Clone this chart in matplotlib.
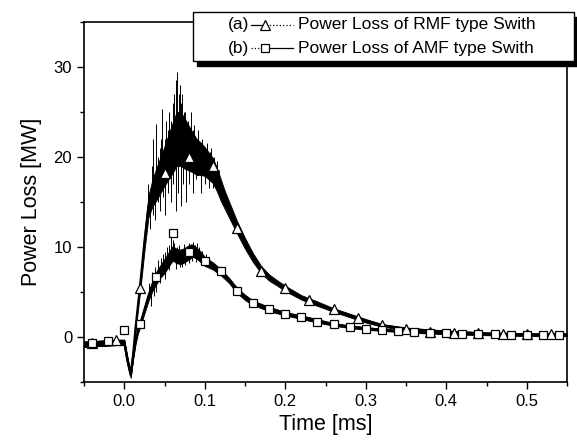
import numpy as np
import matplotlib.pyplot as plt
from matplotlib.lines import Line2D
from matplotlib.patches import Rectangle

plt.rcParams['font.family'] = ['Liberation Sans', 'DejaVu Sans']

# (a) RMF switch: centre line and half width of the noise band
t_a = [-0.05, -0.03, -0.01, 0.0, 0.004, 0.008, 0.011, 0.014, 0.017, 0.02,
       0.025, 0.03, 0.035, 0.04, 0.045, 0.05, 0.055, 0.06, 0.065, 0.07,
       0.075, 0.08, 0.085, 0.09, 0.095, 0.10, 0.105, 0.11, 0.115, 0.12,
       0.125, 0.13, 0.14, 0.15, 0.16, 0.17, 0.18, 0.19, 0.20, 0.22,
       0.24, 0.26, 0.28, 0.30, 0.32, 0.35, 0.40, 0.45, 0.50, 0.55]
a_mid = [-0.8, -0.7, -0.6, -0.6, -2.6, -4.2, -2.0, 1.0, 3.5, 6.0,
         10.5, 14.5, 16.0, 17.0, 18.0, 19.0, 20.0, 21.0, 22.0, 22.0,
         21.5, 21.0, 20.5, 20.0, 19.8, 19.5, 19.0, 18.5, 17.5, 16.3,
         15.2, 14.2, 12.2, 10.4, 8.8, 7.5, 6.6, 6.0, 5.4, 4.4,
         3.7, 3.0, 2.4, 1.8, 1.3, 0.9, 0.6, 0.4, 0.3, 0.3]
a_amp = [0.3, 0.3, 0.3, 0.3, 0.3, 0.3, 0.3, 0.4, 0.5, 0.7,
         1.0, 1.2, 1.5, 1.8, 2.0, 2.2, 2.5, 2.8, 3.0, 3.0,
         2.8, 2.5, 2.2, 2.0, 1.8, 1.6, 1.5, 1.4, 1.3, 1.2,
         1.0, 0.9, 0.7, 0.6, 0.5, 0.4, 0.35, 0.3, 0.3, 0.25,
         0.25, 0.2, 0.2, 0.2, 0.15, 0.15, 0.1, 0.1, 0.1, 0.1]
# spikes of the RMF trace (time, tip value)
a_spk_t = [0.030, 0.034, 0.036, 0.038, 0.040, 0.042, 0.044, 0.046, 0.047, 0.050,
           0.052, 0.054, 0.056, 0.058, 0.060, 0.062, 0.064, 0.066, 0.068, 0.069,
           0.071, 0.072, 0.074, 0.075, 0.077, 0.079, 0.081, 0.083, 0.085, 0.087,
           0.089, 0.092, 0.094, 0.097, 0.100, 0.103, 0.106, 0.108, 0.111, 0.115,
           0.118,
           0.032, 0.036, 0.038, 0.042, 0.045, 0.048, 0.050, 0.054, 0.058, 0.061,
           0.064, 0.067, 0.070, 0.073, 0.077, 0.081, 0.085, 0.089, 0.095, 0.100,
           0.105, 0.110]
a_spk_v = [17.0, 19.0, 22.0, 18.0, 23.7, 20.0, 21.0, 22.0, 25.3, 22.0,
           24.0, 23.0, 25.0, 24.0, 26.0, 27.0, 28.5, 29.4, 27.0, 28.0,
           26.0, 27.0, 25.0, 25.0, 24.0, 24.0, 23.0, 25.0, 23.0, 23.5,
           22.0, 23.0, 21.5, 22.0, 21.0, 21.5, 20.5, 21.0, 20.0, 19.5,
           18.5,
           12.0, 13.5, 13.0, 15.0, 14.0, 15.5, 13.5, 16.0, 15.0, 17.0,
           14.0, 16.0, 14.5, 17.0, 15.0, 17.0, 16.0, 17.5, 16.0, 17.0,
           16.5, 16.5]
a_mk_t = [-0.04, -0.01, 0.02, 0.05, 0.08, 0.11, 0.14, 0.17, 0.20, 0.23,
          0.26, 0.29, 0.32, 0.35, 0.38, 0.41, 0.44, 0.47, 0.50, 0.53]
a_mk_v = [-0.7, -0.3, 5.5, 18.2, 20.0, 19.0, 12.1, 7.3, 5.4, 4.1,
          3.1, 2.1, 1.3, 0.9, 0.6, 0.5, 0.4, 0.3, 0.3, 0.3]

# (b) AMF switch
t_b = [-0.05, -0.03, -0.01, 0.0, 0.004, 0.008, 0.011, 0.014, 0.017, 0.02,
       0.025, 0.03, 0.035, 0.04, 0.045, 0.05, 0.055, 0.06, 0.065, 0.07,
       0.075, 0.08, 0.085, 0.09, 0.095, 0.10, 0.11, 0.12, 0.13, 0.14,
       0.15, 0.16, 0.18, 0.20, 0.22, 0.24, 0.26, 0.28, 0.30, 0.35,
       0.40, 0.45, 0.50, 0.55]
b_mid = [-0.8, -0.7, -0.6, -0.6, -2.6, -4.2, -2.2, -0.5, 0.7, 1.5,
         3.0, 4.5, 5.7, 6.6, 7.3, 7.9, 8.6, 9.3, 9.0, 8.9,
         9.1, 9.4, 9.6, 9.3, 8.9, 8.4, 7.9, 7.2, 6.3, 5.2,
         4.4, 3.8, 3.1, 2.6, 2.2, 1.8, 1.4, 1.15, 0.95, 0.6,
         0.4, 0.3, 0.2, 0.2]
b_amp = [0.3, 0.3, 0.3, 0.3, 0.3, 0.3, 0.3, 0.3, 0.3, 0.35,
         0.4, 0.5, 0.6, 0.7, 0.7, 0.8, 0.8, 0.8, 0.8, 0.8,
         0.8, 0.8, 0.7, 0.6, 0.6, 0.5, 0.4, 0.35, 0.3, 0.3,
         0.3, 0.25, 0.25, 0.2, 0.2, 0.2, 0.15, 0.15, 0.15, 0.1,
         0.1, 0.1, 0.1, 0.1]
b_spk_t = [0.031, 0.035, 0.038, 0.042, 0.046, 0.048, 0.051, 0.053, 0.056, 0.058,
           0.060, 0.062, 0.065, 0.068, 0.071, 0.074, 0.077, 0.080, 0.083, 0.086,
           0.088, 0.090, 0.093, 0.097, 0.101, 0.105,
           0.033, 0.037, 0.040, 0.044, 0.050, 0.055, 0.064, 0.069, 0.072, 0.076,
           0.080, 0.084, 0.089, 0.095]
b_spk_v = [6.0, 7.2, 7.8, 8.6, 8.8, 9.2, 9.4, 10.0, 10.2, 11.8,
           10.8, 10.5, 10.0, 10.2, 9.8, 10.3, 10.0, 10.4, 10.3, 10.6,
           10.2, 10.5, 10.0, 9.6, 9.2, 8.8,
           3.5, 4.6, 5.0, 6.0, 6.5, 7.4, 7.6, 7.8, 7.8, 8.0,
           8.2, 8.4, 8.3, 8.0]
b_mk_t = [-0.04, -0.02, 0.0, 0.02, 0.04, 0.06, 0.08, 0.10, 0.12, 0.14,
          0.16, 0.18, 0.20, 0.22, 0.24, 0.26, 0.28, 0.30, 0.32, 0.34,
          0.36, 0.38, 0.40, 0.42, 0.44, 0.46, 0.48, 0.50, 0.52, 0.54]
b_mk_v = [-0.7, -0.4, 0.8, 1.5, 6.7, 11.6, 9.4, 8.4, 7.3, 5.1,
          3.8, 3.1, 2.6, 2.2, 1.7, 1.4, 1.1, 0.9, 0.8, 0.7,
          0.6, 0.5, 0.4, 0.35, 0.3, 0.3, 0.25, 0.2, 0.2, 0.2]


def draw_trace(ax, t, mid, amp, spk_t, spk_v, mk_t, mk_v, marker, ms):
    lo = [m - a for m, a in zip(mid, amp)]
    hi = [m + a for m, a in zip(mid, amp)]
    ax.fill_between(t, lo, hi, color='black', lw=0.6, zorder=2)
    ax.plot(t, mid, color='black', lw=1.6, zorder=2)
    # spikes start from the centre line
    base = np.interp(spk_t, t, mid)
    ax.vlines(spk_t, base, spk_v, color='black', lw=0.7, zorder=2)
    ax.plot(mk_t, mk_v, ls='none', marker=marker, ms=ms,
            mfc='white', mec='black', mew=0.9, zorder=3)


fig = plt.figure(figsize=(5.77, 4.44), dpi=100)
ax = fig.add_axes([0.1456, 0.1396, 0.8371, 0.8109])

draw_trace(ax, t_a, a_mid, a_amp, a_spk_t, a_spk_v, a_mk_t, a_mk_v, '^', 7)
draw_trace(ax, t_b, b_mid, b_amp, b_spk_t, b_spk_v, b_mk_t, b_mk_v, 's', 6)

ax.set_xlim(-0.05, 0.55)
ax.set_ylim(-5, 35)
ax.set_xticks([0.0, 0.1, 0.2, 0.3, 0.4, 0.5])
ax.set_xticks([-0.05, 0.05, 0.15, 0.25, 0.35, 0.45, 0.55], minor=True)
ax.set_yticks([0, 10, 20, 30])
ax.set_yticks([-5, 5, 15, 25, 35], minor=True)
ax.tick_params(which='major', direction='out', length=5, width=1, labelsize=12,
               top=False, right=False)
ax.tick_params(which='minor', direction='out', length=3, width=1,
               top=False, right=False)
for sp in ax.spines.values():
    sp.set_linewidth(1.2)
ax.set_xlabel('Time [ms]', fontsize=15.5, labelpad=4)
ax.set_ylabel('Power Loss [MW]', fontsize=15.5, labelpad=8)

# legend box drawn by hand, as in the original (tag, then handle, then text)
W, H = 577, 444
bx0, by0, bx1, by1 = 193, 12, 574, 61
fig.patches.append(Rectangle((bx0 / W + 4 / W, 1 - by1 / H - 5 / H),
                             (bx1 - bx0) / W, (by1 - by0) / H,
                             transform=fig.transFigure, fc='black', ec='black',
                             zorder=5))
fig.patches.append(Rectangle((bx0 / W, 1 - by1 / H), (bx1 - bx0) / W,
                             (by1 - by0) / H, transform=fig.transFigure,
                             fc='white', ec='black', lw=1, zorder=6))
rows = [(25, '(a)', 'Power Loss of RMF type Swith', '^', 6.5, '-', ':'),
        (48, '(b)', 'Power Loss of AMF type Swith', 's', 5.5, ':', '-')]
for y, tag, label, mk, ms, ls_left, ls_right in rows:
    yf = 1 - y / H
    fig.text(249 / W, yf, tag, ha='right', va='center', fontsize=12.5, zorder=7)
    fig.add_artist(Line2D([251 / W, 263 / W], [yf, yf], color='black', lw=0.9,
                          ls=ls_left, transform=fig.transFigure, zorder=7))
    fig.add_artist(Line2D([266 / W, 293 / W], [yf, yf], color='black', lw=0.9,
                          ls=ls_right, transform=fig.transFigure, zorder=7))
    fig.add_artist(Line2D([265 / W], [yf], marker=mk, ms=ms, mfc='white',
                          mec='black', mew=0.9, transform=fig.transFigure,
                          zorder=8))
    fig.text(298 / W, yf, label, ha='left', va='center', fontsize=12.5, zorder=7)

fig.savefig('out.png', dpi=100)
